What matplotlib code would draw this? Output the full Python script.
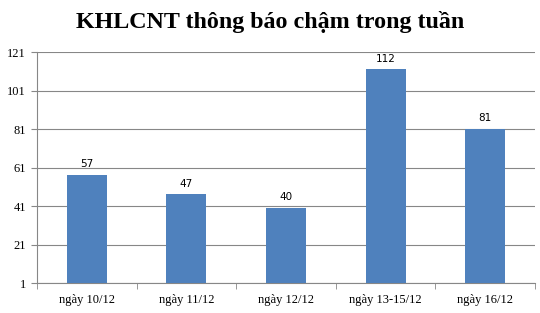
import numpy as np
import matplotlib.pyplot as plt

categories = ['ngày 10/12', 'ngày 11/12', 'ngày 12/12', 'ngày 13-15/12', 'ngày 16/12']
values = [57, 47, 40, 112, 81]
yticks = [1, 21, 41, 61, 81, 101, 121]

fig = plt.figure(figsize=(5.4, 3.13), dpi=100)
ax = fig.add_axes([0.0685, 0.0958, 0.9222, 0.7380])

x = np.arange(len(categories))
bars = ax.bar(x, values, width=0.4, color='#4f81bd', bottom=0, zorder=3)
ax.set_xlim(-0.5, len(categories) - 0.5)
ax.set_ylim(1, 121)
ax.set_yticks(yticks)
ax.set_yticklabels([str(t) for t in yticks], fontfamily='Liberation Serif', fontsize=9)
ax.yaxis.grid(True, color='#878787', linewidth=0.8, zorder=0)

ax.set_xticks(x)
ax.set_xticklabels(categories, fontfamily='Liberation Serif', fontsize=9)
ax.tick_params(axis='x', length=0, pad=8)
ax.set_xticks(np.arange(len(categories) + 1) - 0.5, minor=True)
ax.tick_params(axis='x', which='minor', length=4, color='#878787')
ax.tick_params(axis='y', length=4, color='#878787', pad=4)

for s in ['top', 'right']:
    ax.spines[s].set_visible(False)
ax.spines['left'].set_color('#878787')
ax.spines['bottom'].set_color('#878787')

for xi, v in zip(x, values):
    ax.text(xi, v + 3, str(v), ha='center', va='bottom', fontsize=7.5,
            fontfamily='DejaVu Sans')

fig.suptitle('KHLCNT thông báo chậm trong tuần', y=0.965, fontsize=17.3,
             fontweight='bold', fontfamily='Liberation Serif')

fig.savefig('out.png', dpi=100)
